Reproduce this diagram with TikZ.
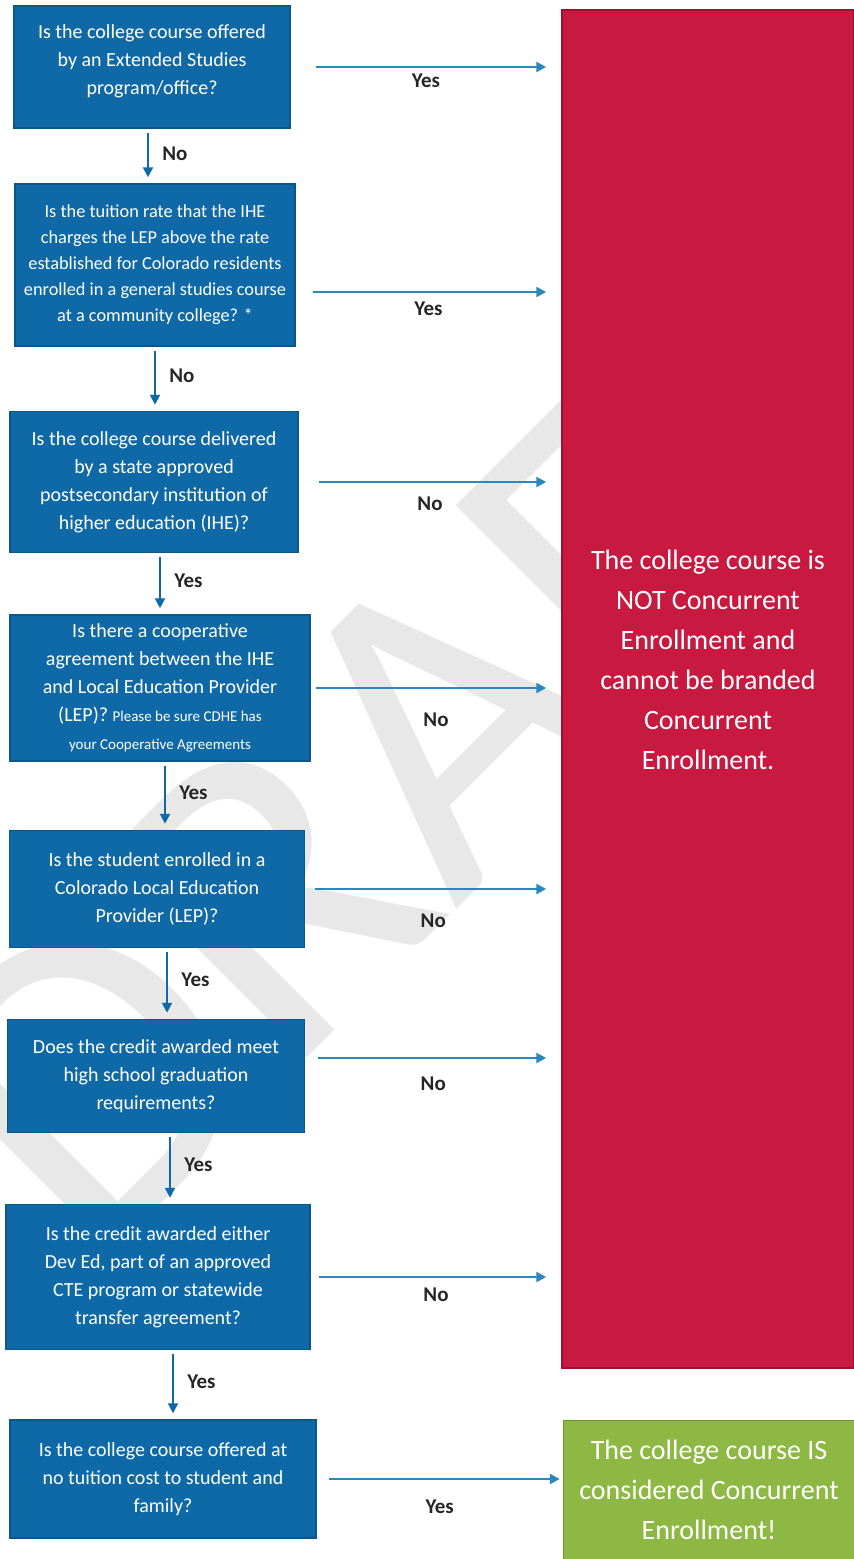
\documentclass[tikz,border=0pt]{standalone}
\usepackage{fontspec}
\setmainfont{Carlito}
\usetikzlibrary{arrows.meta}

\definecolor{boxblue}{HTML}{0F69A6}
\definecolor{boxedge}{HTML}{0A5789}
\definecolor{arrowblue}{HTML}{2A88BE}
\definecolor{notred}{HTML}{C81A40}
\definecolor{notredge}{HTML}{A0102E}
\definecolor{isgreen}{HTML}{8DB843}
\definecolor{isgreenedge}{HTML}{6E9A2C}

\begin{document}
\begin{tikzpicture}[
  x=1pt, y=-1pt,
  question/.style = {draw=boxedge, line width=1.5pt, fill=boxblue, text=white, align=center, inner sep=0pt,
                     font=\fontsize{20}{28}\selectfont},
  verdict/.style = {line width=1.5pt, text=white, align=center, inner sep=0pt,
                    font=\fontsize{28}{40}\selectfont},
  downarrow/.style = {draw=boxblue, line width=2pt, -{Triangle[length=10pt,width=10pt]},
                      shorten <=4pt, shorten >=6pt},
  sidearrow/.style = {draw=arrowblue, line width=2.4pt, -{Triangle[length=10pt,width=10pt]},
                      shorten >=15pt},
  answer/.style = {font=\fontsize{21}{21}\selectfont\bfseries, text=black!85},
  watermark/.style = {font=\fontsize{444}{444}\selectfont, text=black!9, rotate=45, inner sep=0pt}
]
  \useasboundingbox (0,0) rectangle (854,1559);

  \node[watermark] (draft) at (412,752) {DRAFT};

  \node[question, minimum width=276pt, minimum height=122pt] (q1) at (152,67)
    {Is the college course offered\\by an Extended Studies\\program/office?\\[-14pt]\mbox{}};
  \node[question, minimum width=280pt, minimum height=162pt, font=\fontsize{18.3}{26}\selectfont] (q2) at (155,265)
    {Is the tuition rate that the IHE\\charges the LEP above the rate\\established for Colorado residents\\enrolled in a general studies course\\at a community college? *};
  \node[question, minimum width=288pt, minimum height=141pt] (q3) at (154,482)
    {Is the college course delivered\\by a state approved\\postsecondary institution of\\higher education (IHE)?};
  \node[question, minimum width=300pt, minimum height=146pt] (q4) at (160,688)
    {Is there a cooperative\\agreement between the IHE\\and Local Education Provider\\(LEP)? {\fontsize{15}{28}\selectfont Please be sure CDHE has}\\{\fontsize{15}{26}\selectfont your Cooperative Agreements}};
  \node[question, minimum width=295pt, minimum height=117pt] (q5) at (157,889)
    {Is the student enrolled in a\\Colorado Local Education\\Provider (LEP)?};
  \node[question, minimum width=297pt, minimum height=113pt] (q6) at (156,1076)
    {Does the credit awarded meet\\high school graduation\\requirements?};
  \node[question, minimum width=304pt, minimum height=145pt] (q7) at (158,1277)
    {Is the credit awarded either\\Dev Ed, part of an approved\\CTE program or statewide\\transfer agreement?};
  \node[question, minimum width=306pt, minimum height=118pt] (q8) at (163,1479)
    {Is the college course offered at\\no tuition cost to student and\\family?};

  \node[verdict, draw=notredge, fill=notred, minimum width=292pt, minimum height=1358pt] (notce) at (708,689)
    {The college course is\\NOT Concurrent\\Enrollment and\\cannot be branded\\Concurrent\\Enrollment.\\[18pt]\mbox{}};
  \node[verdict, draw=isgreenedge, fill=isgreen, minimum width=291pt, minimum height=139pt] (isce) at (709,1490)
    {The college course IS\\considered Concurrent\\Enrollment!};

  % down the chain
  \draw[downarrow] ([xshift=-4pt]q1.south) -- ([xshift=-4pt]q1.south |- q2.north) node[answer, pos=0.45, right=10pt] {No};
  \draw[downarrow] (q2.south) -- (q2.south |- q3.north) node[answer, pos=0.45, right=10pt] {No};
  \draw[downarrow] ([xshift=6pt]q3.south) -- ([xshift=6pt]q3.south |- q4.north) node[answer, pos=0.45, right=10pt] {Yes};
  \draw[downarrow] ([xshift=5pt]q4.south) -- ([xshift=5pt]q4.south |- q5.north) node[answer, pos=0.45, right=10pt] {Yes};
  \draw[downarrow] ([xshift=10pt]q5.south) -- ([xshift=10pt]q5.south |- q6.north) node[answer, pos=0.45, right=10pt] {Yes};
  \draw[downarrow] ([xshift=14pt]q6.south) -- ([xshift=14pt]q6.south |- q7.north) node[answer, pos=0.45, right=10pt] {Yes};
  \draw[downarrow] ([xshift=15pt]q7.south) -- ([xshift=15pt]q7.south |- q8.north) node[answer, pos=0.45, right=10pt] {Yes};

  % across to the answers
  \draw[sidearrow, shorten <=25pt] (q1.east) -- (q1.east -| notce.west) node[answer, midway, below=2pt] {Yes};
  \draw[sidearrow, shorten <=17pt] ([yshift=-27pt]q2.east) -- ([yshift=-27pt]q2.east -| notce.west) node[answer, midway, below=5pt] {Yes};
  \draw[sidearrow, shorten <=20pt] (q3.east) -- (q3.east -| notce.west) node[answer, midway, below=10pt] {No};
  \draw[sidearrow, shorten <=5pt] (q4.east) -- (q4.east -| notce.west) node[answer, midway, below=20pt] {No};
  \draw[sidearrow, shorten <=10pt] (q5.east) -- (q5.east -| notce.west) node[answer, midway, below=20pt] {No};
  \draw[sidearrow, shorten <=13pt] ([yshift=18pt]q6.east) -- ([yshift=18pt]q6.east -| notce.west) node[answer, midway, below=14pt] {No};
  \draw[sidearrow, shorten <=8pt] (q7.east) -- (q7.east -| notce.west) node[answer, midway, below=6pt] {No};
  \draw[sidearrow, shorten <=12pt, shorten >=3pt] (q8.east) -- (q8.east -| isce.west) node[answer, midway, below=16pt] {Yes};
\end{tikzpicture}
\end{document}
